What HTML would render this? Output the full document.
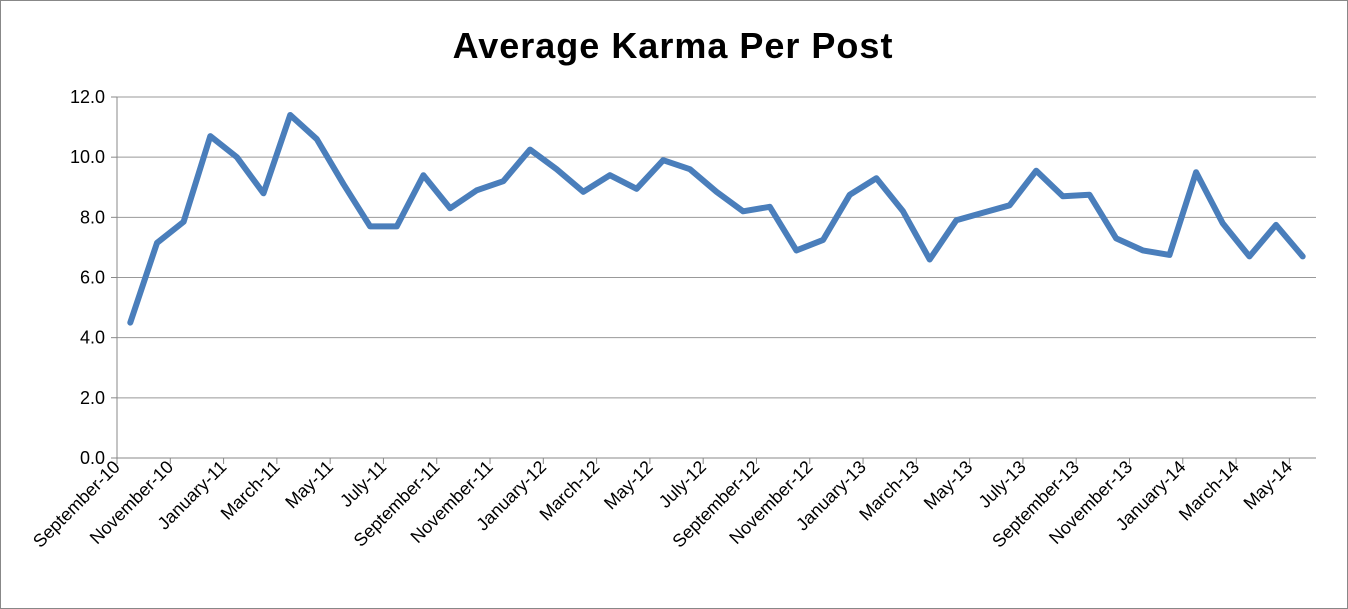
<!DOCTYPE html>
<html><head><meta charset="utf-8"><style>
body{margin:0;background:#fff;}
svg{display:block;font-family:"Liberation Sans",sans-serif;}
</style></head><body>
<svg width="1348" height="609">
<rect x="0.5" y="0.5" width="1347" height="608" fill="#fff" stroke="#888"/>
<text x="673" y="58" text-anchor="middle" font-size="36" font-weight="bold" letter-spacing="1">Average Karma Per Post</text>
<g id="grid"></g><g id="axes"></g><g id="series"></g>
</svg>
<script>
const categories=["September-10","October-10","November-10","December-10","January-11","February-11","March-11","April-11","May-11","June-11","July-11","August-11","September-11","October-11","November-11","December-11","January-12","February-12","March-12","April-12","May-12","June-12","July-12","August-12","September-12","October-12","November-12","December-12","January-13","February-13","March-13","April-13","May-13","June-13","July-13","August-13","September-13","October-13","November-13","December-13","January-14","February-14","March-14","April-14","May-14"];
const values=[4.5,7.15,7.85,10.7,10.0,8.8,11.4,10.6,9.1,7.7,7.7,9.4,8.3,8.9,9.2,10.25,9.6,8.85,9.4,8.95,9.9,9.6,8.85,8.2,8.35,6.9,7.25,8.75,9.3,8.2,6.6,7.9,8.15,8.4,9.55,8.7,8.75,7.3,6.9,6.75,9.5,7.8,6.7,7.75,6.7];
const yTicks=[0,2,4,6,8,10,12];
const NS="http://www.w3.org/2000/svg";
const x0=117,x1=1316,y0=458,y1=97,yMax=12;
const bw=(x1-x0)/categories.length;
const xs=i=>x0+bw*(i+0.5);
const ys=v=>y0-(v/yMax)*(y0-y1);
function mk(t,a,p){const e=document.createElementNS(NS,t);for(const k in a)e.setAttribute(k,a[k]);p.appendChild(e);return e;}
const grid=document.getElementById('grid'),axes=document.getElementById('axes'),series=document.getElementById('series');
yTicks.forEach(t=>{
 const y=ys(t);
 const l=mk('line',{x1:x0,x2:x1,y1:y,y2:y,stroke:t===0?'#888':'#999','stroke-width':1},grid);
 
 
 mk('line',{x1:x0-6,x2:x0,y1:y,y2:y,stroke:'#888'},axes);
 const tx=mk('text',{x:x0-12,y:y+6,'text-anchor':'end','font-size':18},axes);
 tx.textContent=t.toFixed(1);
 
 
});
const ya=mk('line',{x1:x0,x2:x0,y1:y1,y2:y0,stroke:'#888'},axes);


categories.forEach((c,i)=>{
 if(i%2===0){
  const tx0=x0+bw*i;
  mk('line',{x1:tx0,x2:tx0,y1:y0,y2:y0+6,stroke:'#888'},axes);
  const cx=tx0+4,cy=y0+10;
  const t=mk('text',{x:cx,y:cy,'text-anchor':'end','font-size':18,transform:`rotate(-45 ${cx} ${cy})`},axes);
  t.textContent=c;
  
  
 }
});
const pts=values.map((v,i)=>xs(i).toFixed(1)+','+ys(v).toFixed(1)).join(' ');
const pl=mk('polyline',{points:pts,fill:'none',stroke:'#4a7ebb','stroke-width':6,'stroke-linejoin':'round','stroke-linecap':'round'},series);


</script>
</body></html>
